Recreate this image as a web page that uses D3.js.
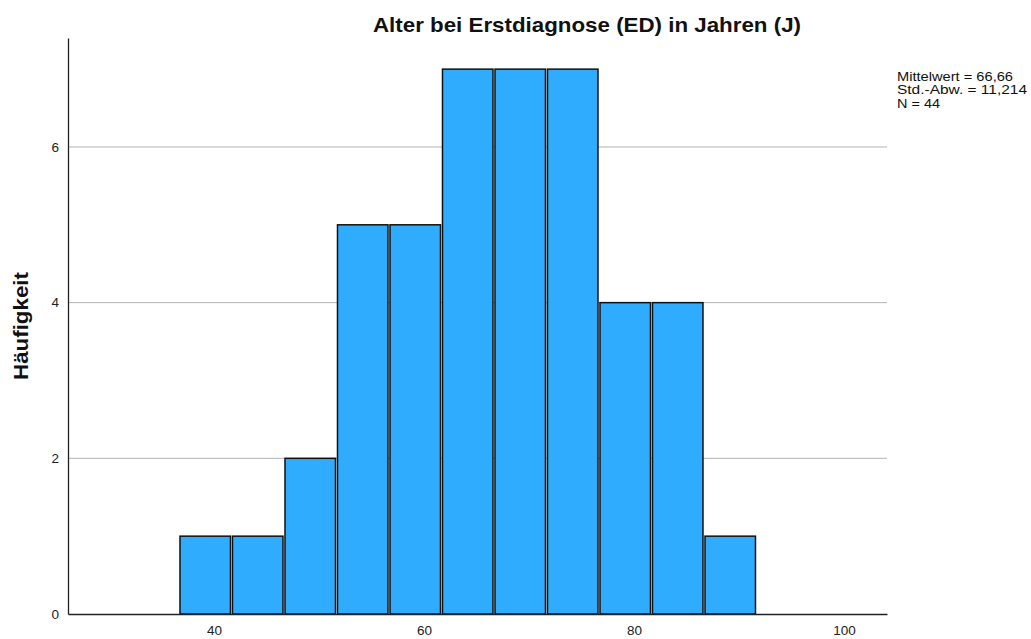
<!DOCTYPE html>
<html>
<head>
<meta charset="utf-8">
<script src="https://cdn.jsdelivr.net/npm/d3@7"></script>
<style>
  body { margin: 0; background: #fff; }
  text { font-family: "Liberation Sans", Arial, sans-serif; }
</style>
</head>
<body>
<div id="chart"></div>
<script>
// bin lower edges (Alter) and frequencies
const binStarts = [36.67, 41.67, 46.67, 51.67, 56.67, 61.67, 66.67, 71.67, 76.67, 81.67, 86.67];
const binWidth = 5;
const counts = [1, 1, 2, 5, 5, 7, 7, 7, 4, 4, 1];
const xTicks = [40, 60, 80, 100];
const yTicks = [0, 2, 4, 6];
const statsLines = ["Mittelwert = 66,66", "Std.-Abw. = 11,214", "N = 44"];
const statsWidths = [116, 130, 43];
const title = "Alter bei Erstdiagnose (ED) in Jahren (J)";
const yLabel = "Häufigkeit";

const W = 1031, H = 639;
const margin = {top: 38, right: 144, bottom: 25, left: 68};
const width = W - margin.left - margin.right,
      height = H - margin.top - margin.bottom;

const svg = d3.select("#chart").append("svg")
  .attr("width", W).attr("height", H);
const g = svg.append("g").attr("transform", `translate(${margin.left},${margin.top})`);

const x = d3.scaleLinear().domain([26.1, 104.1]).range([0, width]);
const y = d3.scaleLinear().domain([0, 7.4]).range([height, 0]);

// gridlines
g.append("g")
  .selectAll("line")
  .data(yTicks.filter(d => d > 0))
  .join("line")
  .attr("x1", 0).attr("x2", width)
  .attr("y1", d => y(d)).attr("y2", d => y(d))
  .attr("stroke", "#b4b4b4").attr("stroke-width", 1);

// bars
g.append("g")
  .selectAll("rect")
  .data(binStarts.map((s, i) => ({x0: s, x1: s + binWidth, n: counts[i]})))
  .join("rect")
  .attr("x", d => x(d.x0) + 1)
  .attr("width", d => x(d.x1) - x(d.x0) - 2)
  .attr("y", d => y(d.n))
  .attr("height", d => y(0) - y(d.n))
  .attr("fill", "#30acff")
  .attr("stroke", "#111")
  .attr("stroke-width", 1.5);

// y axis
g.append("g")
  .call(d3.axisLeft(y).tickValues(yTicks).tickSize(0).tickPadding(9))
  .call(a => a.select(".domain").attr("stroke", "#222").attr("stroke-width", 1.3))
  .selectAll("text")
  .style("font-size", "13.5px").attr("fill", "#222");

// x axis
g.append("g")
  .attr("transform", `translate(0,${height})`)
  .call(d3.axisBottom(x).tickValues(xTicks).tickSize(0).tickPadding(11))
  .call(a => a.select(".domain").attr("stroke", "#222").attr("stroke-width", 1.3))
  .selectAll("text")
  .style("font-size", "13.5px").attr("fill", "#222");

// title
svg.append("text")
  .attr("x", 373).attr("y", 32)
  .attr("textLength", 428).attr("lengthAdjust", "spacingAndGlyphs")
  .style("font-size", "21px").attr("font-weight", "bold")
  .attr("fill", "#111")
  .text(title);

// y label
svg.append("text")
  .attr("transform", `translate(28,${margin.top + height / 2}) rotate(-90)`)
  .attr("text-anchor", "middle")
  .attr("textLength", 108).attr("lengthAdjust", "spacingAndGlyphs")
  .style("font-size", "21px").attr("font-weight", "bold")
  .attr("fill", "#111")
  .text(yLabel);

// stats
svg.append("g")
  .selectAll("text")
  .data(statsLines)
  .join("text")
  .attr("x", 897).attr("y", (d, i) => 80.5 + i * 13.8)
  .attr("textLength", (d, i) => statsWidths[i]).attr("lengthAdjust", "spacingAndGlyphs")
  .style("font-size", "13px").attr("fill", "#111")
  .text(d => d);
</script>
</body>
</html>
